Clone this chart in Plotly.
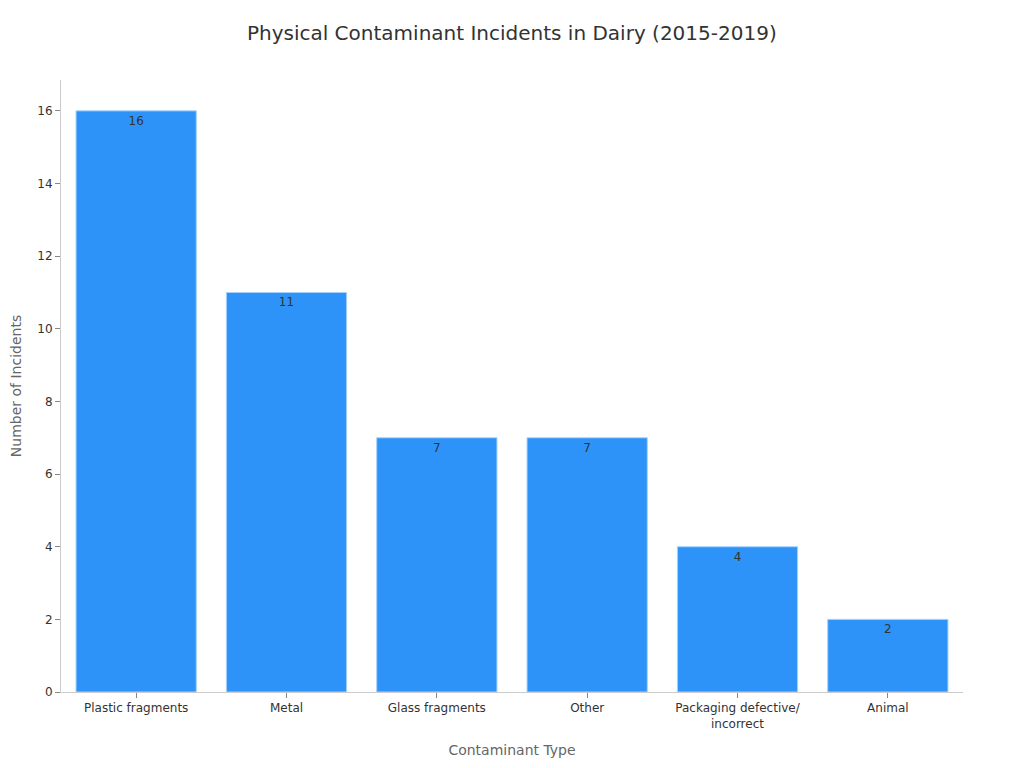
import plotly.graph_objects as go

categories = ["Plastic fragments", "Metal", "Glass fragments", "Other",
              "Packaging defective/<br>incorrect", "Animal"]
incidents = [16, 11, 7, 7, 4, 2]
y_ticks = [0, 2, 4, 6, 8, 10, 12, 14, 16]

fig = go.Figure(go.Bar(
    x=categories,
    y=incidents,
    text=[str(v) for v in incidents],
    textposition="inside",
    insidetextanchor="end",
    textfont=dict(size=12, color="#333333", family="DejaVu Sans"),
    marker=dict(color="#2E93F8", line=dict(color="#A8D2FB", width=1)),
    cliponaxis=False,
))

fig.update_layout(
    width=1024, height=768,
    paper_bgcolor="white", plot_bgcolor="white",
    font=dict(family="DejaVu Sans", size=12, color="#333333"),
    title=dict(text="Physical Contaminant Incidents in Dairy (2015-2019)",
               x=0.492, xanchor="center", y=0.968, yanchor="middle",
               font=dict(size=20, color="#333333")),
    margin=dict(l=53, r=69, t=72, b=84),
    bargap=0.2,
    showlegend=False,
)
fig.update_xaxes(
    title=dict(text="Contaminant Type", font=dict(size=14, color="#666666"), standoff=15),
    showline=True, linecolor="#cccccc", linewidth=1,
    ticks="outside", ticklen=5, tickcolor="#888888",
    tickfont=dict(size=12, color="#333333"),
    showgrid=False,
)
fig.update_yaxes(
    title=dict(text="Number of Incidents", font=dict(size=14, color="#666666")),
    automargin=False,
    range=[0, 16.85],
    tickvals=y_ticks,
    showline=True, linecolor="#cccccc", linewidth=1,
    ticks="outside", ticklen=5, tickcolor="#888888",
    tickfont=dict(size=12, color="#333333"),
    showgrid=False, zeroline=False,
)

fig.write_html("out.html")
